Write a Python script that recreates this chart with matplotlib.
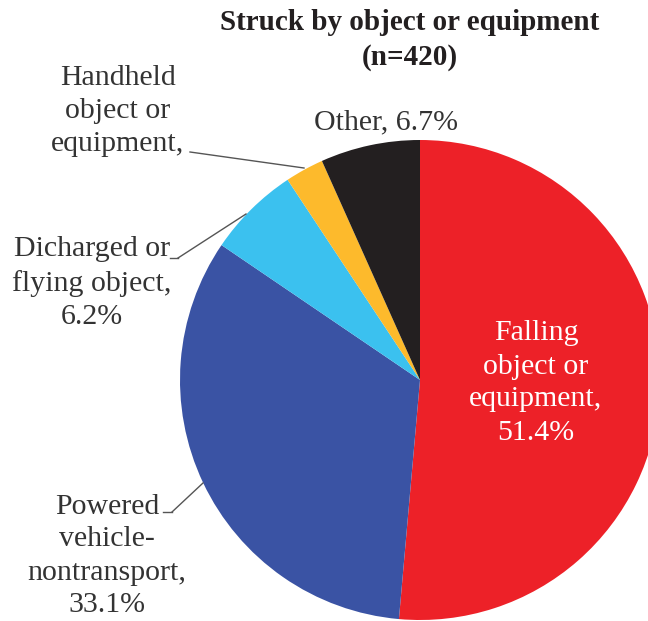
import matplotlib.pyplot as plt

labels = ["Falling object or equipment", "Powered vehicle-nontransport",
          "Dicharged or flying object", "Handheld object or equipment", "Other"]
shares = [51.4, 33.1, 6.2, 2.6, 6.7]
colors = ["#ED2128", "#3A53A4", "#3BC1EF", "#FDBA2C", "#231F20"]

plt.rcParams['font.family'] = ['Liberation Serif', 'DejaVu Serif']

W, H = 648, 621
fig = plt.figure(figsize=(W / 100, H / 100), dpi=100)
ax = fig.add_axes([0, 0, 1, 1])

cx, cy, r = 420, H - 380, 240
ax.pie(shares, colors=colors, startangle=90, counterclock=False,
       center=(cx, cy), radius=r, frame=True,
       wedgeprops=dict(linewidth=0))
ax.set_xlim(0, W)
ax.set_ylim(0, H)
ax.set_aspect('equal')
ax.axis('off')

def px(x, y):
    return x, H - y

ax.text(*px(410, 40), "Struck by object or equipment\n(n=420)", ha='center', va='center',
        fontsize=21, fontweight='bold', linespacing=1.4, color='#231F20')

fs = 21.5
tc = '#333333'
ls = 1.35
ax.text(*px(118, 111), "Handheld\nobject or\nequipment,", ha='center', va='center',
        fontsize=fs, color=tc, linespacing=ls)
ax.text(*px(386, 122), "Other, %.1f%%" % shares[4], ha='center', va='center',
        fontsize=fs, color=tc)
ax.text(*px(92, 283), "Dicharged or\nflying object,\n%.1f%%" % shares[2], ha='center', va='center',
        fontsize=fs, color=tc, linespacing=ls)
ax.text(*px(107, 556), "Powered\nvehicle-\nnontransport,\n%.1f%%" % shares[1], ha='center',
        va='center', fontsize=fs, color=tc, linespacing=ls)
ax.text(*px(536, 383), "Falling\nobject or\nequipment,\n%.1f%%" % shares[0], ha='center',
        va='center', fontsize=fs, color='white', linespacing=ls)

# leader lines
lc = '#555555'
for (x0, y0), (x1, y1) in [((190, 152), (304, 168)),
                           ((170, 258), (178, 258)), ((178, 258), (246, 214)),
                           ((163, 512), (172, 512)), ((172, 512), (203, 483))]:
    ax.plot([x0, x1], [H - y0, H - y1], color=lc, lw=1)

fig.savefig("out.png", dpi=100)
